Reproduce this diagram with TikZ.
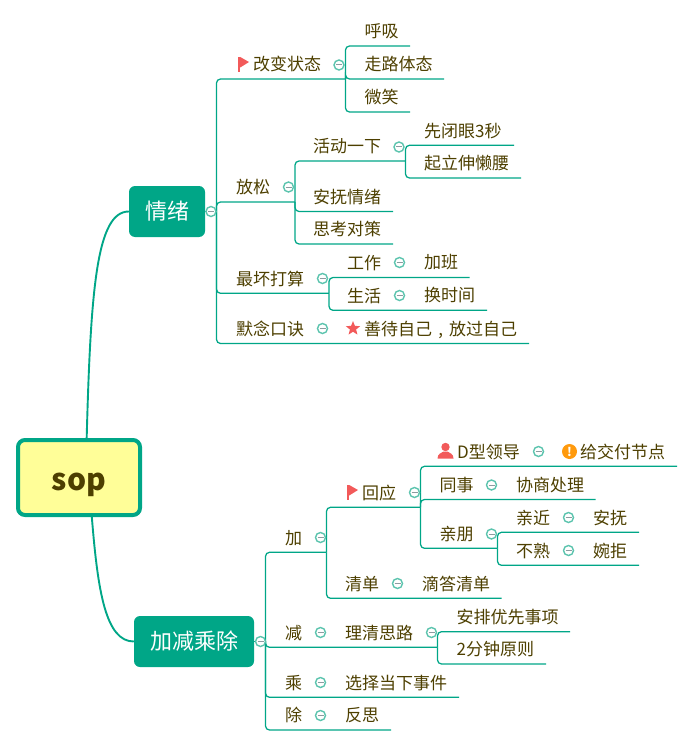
\documentclass[tikz,border=0pt]{standalone}
\usepackage{fontspec}
\setmainfont{Noto Sans CJK SC}
\usetikzlibrary{arrows.meta,calc,shapes.geometric}
\definecolor{teal1}{HTML}{00A687}
\definecolor{foldc}{HTML}{5CC4AE}
\definecolor{minusc}{HTML}{8C9CA0}
\definecolor{inkc}{HTML}{4D3F00}
\definecolor{redc}{HTML}{F25A5A}
\definecolor{orangec}{HTML}{FF9A0D}
\definecolor{rootc}{HTML}{FFFE98}

\begin{document}
\begin{tikzpicture}[
  x=1pt, y=-1pt,
  font=\fontsize{17}{20}\selectfont, text=inkc,
  topic/.style  ={anchor=west,inner sep=0,text height=15.5pt,text depth=2pt},
  root/.style   ={draw=teal1,fill=rootc,line width=4pt,rounded corners=7pt,
                  minimum width=122pt,minimum height=75pt,inner sep=0,
                  text height=25pt,text depth=0pt,
                  font=\fontsize{30}{34}\selectfont\bfseries},
  major/.style  ={fill=teal1,rounded corners=6pt,inner sep=0,text=white,minimum height=51pt,
                  font=\fontsize{22}{26}\selectfont},
  curve/.style  ={draw=teal1,line width=1.9pt},
  branch/.style ={draw=teal1,line width=1.25pt,rounded corners=4pt},
  fold/.style   ={circle,draw=foldc,line width=1.4pt,fill=white,minimum size=10pt,inner sep=0,
                  path picture={\draw[minusc,line width=1pt]
                    ($(path picture bounding box.center)+(-3,0)$) --
                    ($(path picture bounding box.center)+(3,0)$);}},
  starmark/.style={star,star points=5,star point ratio=2.3,fill=redc,inner sep=0,minimum size=15pt},
  warnmark/.style={circle,fill=orangec,inner sep=0,minimum size=15pt,text=white,
                  font=\fontsize{12}{12}\selectfont\bfseries},
  flagicon/.pic ={\fill[redc] (0,0) rectangle (2.2,15);
                  \fill[redc] (2.2,0) -- (11,5) -- (2.2,10.5) -- cycle;},
  usericon/.pic ={\fill[redc] (0,-4) circle (4.2);
                  \fill[redc] (-8,7.5) .. controls (-8,2.5) and (-4,2) .. (-2,0.5)
                     -- (2,0.5) .. controls (4,2) and (8,2.5) .. (8,7.5) -- cycle;},
]
\useasboundingbox (0,0) rectangle (693,746);

% ---------------------------------------------------------------- root and majors
\node[root] (sop) at (79,477.5) {sop};
\node[major,minimum width=76pt] (qingxu) at (167,211.5) {情绪};
\node[major,minimum width=120pt] (jiajian) at (194,641.5) {加减乘除};
\draw[curve] (sop.79) .. controls +(4,-150) and +(-32,0) .. (qingxu.west);
\draw[curve] (sop.288) .. controls +(6,75) and +(-28,0) .. (jiajian.west);

% hubs of the two majors
\coordinate (qingxu-e) at (216.5,211.5);
\coordinate (jiajian-e) at (265.5,641.5);
\draw[branch] (qingxu.east) -- (qingxu-e);
\draw[branch] (jiajian.east) -- (jiajian-e);

% ---------------------------------------------------------------- underlined topics
% name / text left / underline y / underline end / text
\foreach \n/\xo/\yl/\xe/\txt in {
    gaibian/253/79/345.5/改变状态, huxi/364.5/46/410/呼吸, zoulu/364.5/79/444/走路体态,
    weixiao/364.5/112/410/微笑, fangsong/236/202/295/放松, huodong/313/161/405.5/活动一下,
    biyan/424/145.3/514/先闭眼3秒, qili/424/178/521/起立伸懒腰, anfu/313/211.5/393/安抚情绪,
    sikao/313/244/393/思考对策, zuihuai/236/293.3/329/最坏打算, gongzuo/347/277.5/469.5/工作,
    shenghuo/347/310.3/487/生活, monian/236/343.5/529/默念口诀,
    jia/285/552.3/326.5/加, huiying/362/507.3/420.5/回应, dxing/457/466.3/677/D型领导,
    tongshi/439.5/499.5/595.5/同事, qinpeng/439.5/548.3/497.5/亲朋, qinjin/516/532.3/639/亲近,
    bushu/516/565.3/639/不熟, qingdan/345/598.3/501.5/清单, jian/285/647.3/437.5/减,
    anpai/456.5/631.7/570/安排优先事项, fenzhong/456.5/664/546/2分钟原则,
    cheng/285/697.3/459/乘, chu/285/730/391/除} {
  \node[topic] (\n) at (\xo,\yl-15) {\txt};
  \coordinate (\n-e) at (\xe,\yl);
}

% topics that share the underline of the one before them
\foreach \n/\xo/\yo/\txt in {
    jiaban/424/262/加班, huanshijian/424/295/换时间, shandai/364/328.5/{善待自己\makebox[17pt]{,}放过自己},
    jiaofu/580/451.3/给交付节点, xieshang/516/484.5/协商处理, anfu2/593/517.3/安抚, wanju/593/550.3/婉拒,
    dida/422/583.3/滴答清单, liqing/345/632.3/理清思路, xuanze/345/682.3/选择当下事件, fansi/345/715/反思} {
  \node[topic] (\n) at (\xo,\yo) {\txt};
}

% ---------------------------------------------------------------- branches
\foreach \a/\b in {
    qingxu/gaibian, qingxu/fangsong, qingxu/zuihuai, qingxu/monian,
    gaibian/huxi, gaibian/zoulu, gaibian/weixiao,
    fangsong/huodong, fangsong/anfu, fangsong/sikao, huodong/biyan, huodong/qili,
    zuihuai/gongzuo, zuihuai/shenghuo,
    jiajian/jia, jiajian/jian, jiajian/cheng, jiajian/chu,
    jia/huiying, jia/qingdan, huiying/dxing, huiying/tongshi, huiying/qinpeng,
    qinpeng/qinjin, qinpeng/bushu, jian/anpai, jian/fenzhong} {
  \draw[branch] (\a-e) |- (\b-e);
}

% ---------------------------------------------------------------- collapse marks
\foreach \n/\xo/\yo in {
    qingxu/211/211.5, gaibian/339/65, fangsong/288.5/187, huodong/399/147,
    zuihuai/322.5/278.5, gongzuo/399.5/262.5, shenghuo/399.5/295.5, monian/322.5/328.5,
    jiajian/260.5/641.5, jia/320.5/537.5, huiying/414.5/492.5, dxing/538.5/451.5,
    tongshi/491.5/485, qinpeng/491.5/534, qinjin/568.5/517.5, bushu/568.5/550.5,
    qingdan/397.5/583.5, jian/320.5/632.5, liqing/431.5/632.5, cheng/320.5/682.5, chu/320.5/715.5} {
  \node[fold] (\n-f) at (\xo,\yo) {};
}

% ---------------------------------------------------------------- icons
\pic at (238,57) {flagicon};
\pic at (347,485) {flagicon};
\pic at (445.5,451) {usericon};
\node[starmark] (star1) at (353,328.5) {};
\node[warnmark] (warn1) at (569.5,451.5) {!};

\end{tikzpicture}
\end{document}
